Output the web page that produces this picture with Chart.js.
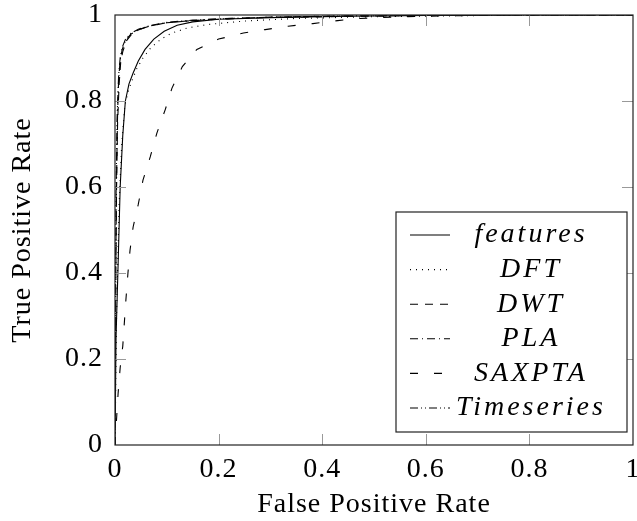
<!DOCTYPE html>
<html>
<head>
<meta charset="utf-8">
<script src="https://cdn.jsdelivr.net/npm/chart.js@4/dist/chart.umd.min.js"></script>
<style>
  html, body { margin: 0; padding: 0; background: #fff; }
  #wrap { width: 637px; height: 521px; }
</style>
</head>
<body>
<div id="wrap"><canvas id="rocChart" width="637" height="521"></canvas></div>
<script>
const seriesNames = ["features", "DFT", "DWT", "PLA", "SAXPTA", "Timeseries"];
const tickValues = [0, 0.2, 0.4, 0.6, 0.8, 1];

const featuresFpr = [0, 0.002, 0.006, 0.01, 0.015, 0.02, 0.027, 0.035, 0.045, 0.058, 0.075, 0.095, 0.12, 0.15, 0.2, 0.3, 0.45, 0.6, 0.8, 1];
const featuresTpr = [0, 0.25, 0.42, 0.6, 0.72, 0.8, 0.84, 0.865, 0.893, 0.92, 0.944, 0.962, 0.976, 0.984, 0.99, 0.994, 0.997, 0.999, 1, 1];

const dftFpr = [0, 0.003, 0.008, 0.013, 0.019, 0.025, 0.032, 0.042, 0.054, 0.07, 0.09, 0.11, 0.14, 0.18, 0.25, 0.35, 0.5, 0.65, 0.8, 1];
const dftTpr = [0, 0.3, 0.56, 0.7, 0.79, 0.82, 0.845, 0.875, 0.9, 0.925, 0.945, 0.958, 0.97, 0.978, 0.986, 0.992, 0.996, 0.998, 1, 1];

const dwtFpr = [0, 0.001, 0.003, 0.005, 0.008, 0.011, 0.015, 0.022, 0.032, 0.045, 0.065, 0.1, 0.15, 0.2, 0.3, 0.45, 0.6, 0.75, 1];
const dwtTpr = [0, 0.3, 0.6, 0.75, 0.84, 0.89, 0.915, 0.94, 0.955, 0.965, 0.974, 0.982, 0.987, 0.99, 0.994, 0.997, 0.999, 1, 1];

const plaFpr = [0, 0.001, 0.003, 0.005, 0.007, 0.01, 0.014, 0.02, 0.03, 0.045, 0.07, 0.1, 0.15, 0.2, 0.3, 0.45, 0.6, 0.75, 1];
const plaTpr = [0, 0.35, 0.62, 0.77, 0.85, 0.895, 0.92, 0.94, 0.955, 0.966, 0.975, 0.982, 0.987, 0.991, 0.995, 0.998, 0.999, 1, 1];

const saxFpr = [0, 0.003, 0.006, 0.01, 0.015, 0.021, 0.025, 0.029, 0.035, 0.045, 0.054, 0.068, 0.081, 0.097, 0.11, 0.13, 0.158, 0.2, 0.248, 0.29, 0.334, 0.382, 0.43, 0.473, 0.55, 0.65, 0.8, 1];
const saxTpr = [0, 0.06, 0.12, 0.18, 0.23, 0.337, 0.4, 0.453, 0.507, 0.56, 0.616, 0.67, 0.726, 0.78, 0.83, 0.88, 0.92, 0.944, 0.958, 0.966, 0.974, 0.98, 0.987, 0.992, 0.996, 0.998, 1, 1];

const tsFpr = [0, 0.001, 0.002, 0.004, 0.007, 0.01, 0.014, 0.02, 0.03, 0.045, 0.07, 0.1, 0.15, 0.2, 0.3, 0.45, 0.6, 0.75, 1];
const tsTpr = [0, 0.32, 0.58, 0.76, 0.86, 0.9, 0.925, 0.943, 0.957, 0.967, 0.976, 0.983, 0.988, 0.991, 0.995, 0.998, 0.999, 1, 1];

const seriesX = [featuresFpr, dftFpr, dwtFpr, plaFpr, saxFpr, tsFpr];
const seriesY = [featuresTpr, dftTpr, dwtTpr, plaTpr, saxTpr, tsTpr];
const dashes = [[], [1, 5], [8, 7], [8, 4, 1, 4], [8, 16], [8, 3, 1, 3, 1, 3]];

const serif = "'Liberation Serif', 'DejaVu Serif', serif";

function toPoints(xs, ys) {
  return xs.map((x, i) => ({ x: x, y: ys[i] }));
}

const datasets = seriesNames.map((name, i) => ({
  label: name,
  data: toPoints(seriesX[i], seriesY[i]),
  showLine: true,
  borderColor: "#000",
  borderWidth: 1.1,
  borderDash: dashes[i],
  pointRadius: 0,
  tension: 0,
  fill: false,
}));

// inner tick marks, frame and legend box like pgfplots
const frame = {
  id: "frame",
  beforeDraw(chart) {
    // computer modern is wider than the serif we have
    chart.ctx.letterSpacing = "1px";
  },
  afterDraw(chart) {
    const ctx = chart.ctx;
    const a = chart.chartArea;
    const xs = chart.scales.x;
    const ys = chart.scales.y;
    ctx.save();
    ctx.strokeStyle = "#999";
    ctx.lineWidth = 1;
    ctx.beginPath();
    tickValues.slice(1, -1).forEach((v) => {
      const px = Math.round(xs.getPixelForValue(v)) + 0.5;
      ctx.moveTo(px, a.bottom); ctx.lineTo(px, a.bottom - 11);
      ctx.moveTo(px, a.top); ctx.lineTo(px, a.top + 11);
      const py = Math.round(ys.getPixelForValue(v)) + 0.5;
      ctx.moveTo(a.left, py); ctx.lineTo(a.left + 11, py);
      ctx.moveTo(a.right, py); ctx.lineTo(a.right - 11, py);
    });
    ctx.stroke();
    ctx.strokeStyle = "#222";
    ctx.lineWidth = 1.2;
    ctx.strokeRect(a.left, a.top, a.right - a.left, a.bottom - a.top);

    // legend
    const lx = 396, ly = 212, lw = 231, lh = 220;
    ctx.fillStyle = "#fff";
    ctx.fillRect(lx, ly, lw, lh);
    ctx.strokeStyle = "#222";
    ctx.lineWidth = 1.2;
    ctx.strokeRect(lx, ly, lw, lh);
    ctx.font = "italic 28px " + serif;
    ctx.letterSpacing = "3px";
    ctx.textAlign = "center";
    ctx.textBaseline = "middle";
    chart.data.datasets.forEach((ds, i) => {
      const y = ly + 23 + i * 34.6;
      ctx.beginPath();
      ctx.setLineDash(ds.borderDash);
      ctx.strokeStyle = "#000";
      ctx.lineWidth = 1.1;
      ctx.moveTo(lx + 14, y);
      ctx.lineTo(lx + 54, y);
      ctx.stroke();
      ctx.setLineDash([]);
      ctx.fillStyle = "#000";
      ctx.fillText(ds.label, 531, y);
    });
    ctx.restore();
  },
};

new Chart(document.getElementById("rocChart"), {
  type: "scatter",
  data: { datasets },
  plugins: [frame],
  options: {
    responsive: false,
    animation: false,
    layout: { padding: { top: 15, right: 4, left: 0, bottom: 0 } },
    plugins: { legend: { display: false }, tooltip: { enabled: false } },
    scales: {
      x: {
        type: "linear",
        min: 0,
        max: 1,
        afterBuildTicks: (s) => { s.ticks = tickValues.map((v) => ({ value: v })); },
        afterFit: (s) => { s.height = 76; s.paddingLeft = 0; s.paddingRight = 0; },
        grid: { display: false, drawTicks: false },
        border: { display: false },
        ticks: {
          color: "#000",
          padding: 8,
          maxRotation: 0,
          font: { family: serif, size: 28 },
          callback: (v) => String(v),
        },
        title: {
          display: true,
          text: "False Positive Rate",
          color: "#000",
          padding: { top: 0, bottom: 0 },
          font: { family: serif, size: 28 },
        },
      },
      y: {
        type: "linear",
        min: 0,
        max: 1,
        afterBuildTicks: (s) => { s.ticks = tickValues.map((v) => ({ value: v })); },
        afterFit: (s) => { s.width = 115; s.paddingTop = 0; s.paddingBottom = 0; },
        grid: { display: false, drawTicks: false },
        border: { display: false },
        ticks: {
          color: "#000",
          padding: 12,
          font: { family: serif, size: 28 },
          callback: (v) => String(v),
        },
        title: {
          display: true,
          text: "True Positive Rate",
          color: "#000",
          padding: { top: 6, bottom: 0 },
          font: { family: serif, size: 28 },
        },
      },
    },
  },
});
</script>
</body>
</html>
